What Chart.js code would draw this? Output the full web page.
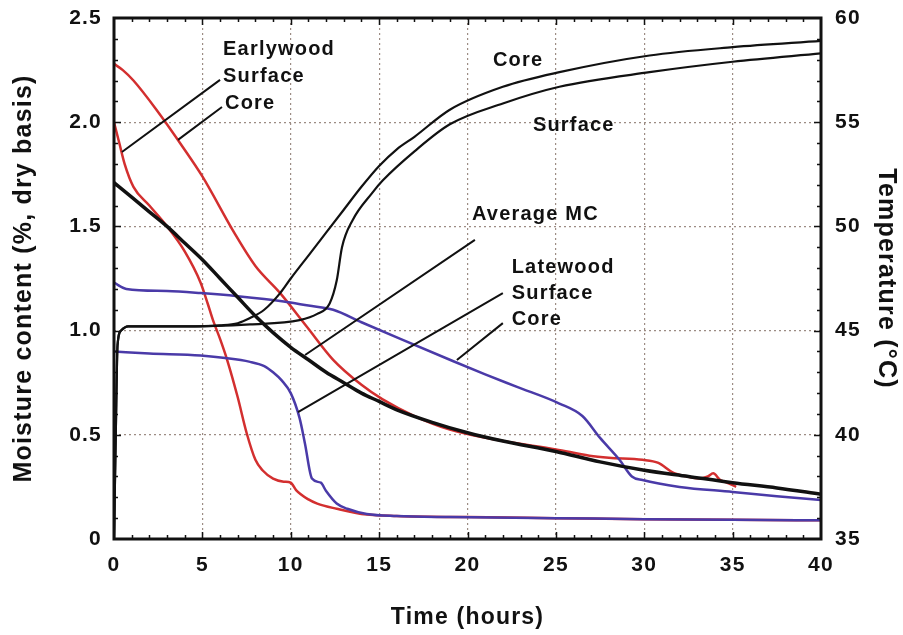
<!DOCTYPE html>
<html>
<head>
<meta charset="utf-8">
<script src="https://cdn.jsdelivr.net/npm/chart.js@4/dist/chart.umd.min.js"></script>
<style>
  html, body { margin: 0; padding: 0; background: #fff; }
  #chart { display: block; }
</style>
</head>
<body>
<canvas id="chart" width="903" height="635"></canvas>
<script>
// time axis ticks and value axis ticks
const timeTicks = [0, 5, 10, 15, 20, 25, 30, 35, 40];
const mcTicks = [0, 0.5, 1.0, 1.5, 2.0, 2.5];
const tempTicks = [35, 40, 45, 50, 55, 60];

// earlywood surface MC
const ewSurfT = [0, 0.3, 0.6, 1.1, 2, 3, 4, 4.9, 5.3, 5.6, 6, 6.4, 7, 7.5, 8, 8.4, 9, 9.6, 10, 10.3, 11, 11.5, 12.6, 14, 16, 20, 25, 30, 35, 40];
const ewSurfMC = [2.0, 1.9, 1.8, 1.69, 1.6, 1.5, 1.38, 1.23, 1.13, 1.05, 0.96, 0.86, 0.68, 0.51, 0.38, 0.33, 0.29, 0.275, 0.27, 0.235, 0.19, 0.17, 0.145, 0.12, 0.11, 0.105, 0.1, 0.095, 0.092, 0.09];

// earlywood core MC
const ewCoreT = [0, 0.5, 1.1, 2.4, 3.9, 5, 6.8, 8, 9.4, 10.9, 12.4, 14, 15.2, 17, 19, 22, 25, 26.9, 28, 29.9, 30.8, 31.6, 32.4, 33.1, 33.6, 33.9, 34.3, 34.7, 35.2];
const ewCoreMC = [2.28, 2.25, 2.2, 2.06, 1.88, 1.74, 1.47, 1.31, 1.18, 1.02, 0.86, 0.74, 0.67, 0.59, 0.525, 0.47, 0.43, 0.40, 0.39, 0.38, 0.365, 0.32, 0.30, 0.29, 0.30, 0.315, 0.283, 0.27, 0.25];

// average MC
const avgT = [0, 1, 2, 3, 4, 5, 6, 7, 8, 9, 10, 11, 12, 13, 14, 15, 16, 18, 20, 22, 25, 27.5, 30, 32.5, 35, 37.5, 40];
const avgMC = [1.71, 1.64, 1.57, 1.5, 1.42, 1.34, 1.25, 1.16, 1.07, 0.99, 0.92, 0.86, 0.80, 0.75, 0.70, 0.66, 0.62, 0.56, 0.51, 0.47, 0.42, 0.37, 0.33, 0.30, 0.27, 0.245, 0.215];

// latewood core MC
const lwCoreT = [0, 0.7, 3, 4.9, 7, 9.6, 11, 12.4, 14, 16.2, 19, 21, 22.8, 25.2, 26.5, 27.5, 28.6, 29.3, 29.9, 32, 35, 37.5, 40];
const lwCoreMC = [1.23, 1.2, 1.19, 1.18, 1.165, 1.14, 1.12, 1.10, 1.04, 0.96, 0.86, 0.79, 0.73, 0.65, 0.59, 0.485, 0.38, 0.30, 0.283, 0.25, 0.226, 0.205, 0.187];

// latewood surface MC
const lwSurfT = [0, 2, 4.9, 7.7, 8.5, 9, 9.5, 10, 10.5, 10.8, 11.2, 11.7, 12, 12.6, 13.2, 14.3, 16, 19, 25, 30, 35, 40];
const lwSurfMC = [0.9, 0.89, 0.88, 0.85, 0.83, 0.8, 0.76, 0.70, 0.58, 0.46, 0.29, 0.27, 0.23, 0.17, 0.145, 0.12, 0.11, 0.105, 0.1, 0.095, 0.092, 0.09];

// core temperature (°C)
const tCoreT = [0, 0.1, 0.2, 0.4, 0.8, 2, 4, 6, 7, 7.7, 8.5, 9.4, 10, 11, 12, 13, 14, 15, 16, 17, 19, 22, 25.2, 30.3, 35, 40];
const tCoreC = [35, 40, 44.3, 45, 45.2, 45.2, 45.2, 45.25, 45.35, 45.6, 46.0, 46.8, 47.5, 48.6, 49.7, 50.8, 51.9, 52.9, 53.7, 54.3, 55.6, 56.7, 57.4, 58.2, 58.6, 58.9];

// surface temperature (°C)
const tSurfT = [0, 0.1, 0.2, 0.4, 0.8, 4, 7.7, 10.5, 11.5, 12.2, 12.6, 12.9, 13.5, 14.6, 15.2, 17, 19, 22, 25.2, 30.3, 35, 40];
const tSurfC = [35, 40, 44.3, 45, 45.2, 45.2, 45.3, 45.5, 45.8, 46.3, 47.4, 49.0, 50.3, 51.6, 52.2, 53.6, 54.9, 55.9, 56.7, 57.4, 57.9, 58.3];

// labels inside the plot, [text, hours, MC]
const notes = [
    ['Earlywood', 6.17, 2.347],
    ['Surface', 6.17, 2.217],
    ['Core', 6.28, 2.092],
    ['Core', 21.44, 2.298],
    ['Surface', 23.7, 1.982],
    ['Average MC', 20.25, 1.555],
    ['Latewood', 22.5, 1.305],
    ['Surface', 22.5, 1.176],
    ['Core', 22.5, 1.051]
];
// leader lines, [x1, y1, x2, y2] in hours / MC
const leaders = [
    [6.0, 2.203, 0.45, 1.857],
    [6.11, 2.073, 3.62, 1.915],
    [20.42, 1.435, 10.81, 0.883],
    [22.0, 1.18, 10.41, 0.609],
    [22.0, 1.036, 19.4, 0.859]
];

const RED = '#d32f2f';
const BLUE = '#4a3aa8';
const BLACK = '#111111';
const FONT = "'Liberation Sans', Arial, sans-serif";

function pts(xs, ys) {
    return xs.map((x, i) => ({ x: x, y: ys[i] }));
}

function line(data, color, width, axis) {
    return {
        data: data,
        borderColor: color,
        borderWidth: width,
        pointRadius: 0,
        fill: false,
        cubicInterpolationMode: 'monotone',
        yAxisID: axis
    };
}

// no extra room for edge labels, the layout is fixed
function noPad(s) {
    s.paddingTop = 0;
    s.paddingBottom = 0;
    s.paddingLeft = 0;
    s.paddingRight = 0;
}

// frame, minor ticks, labels and leader lines
const decor = {
    id: 'decor',
    beforeDraw(chart) {
        const ctx = chart.ctx;
        ctx.save();
        ctx.fillStyle = '#fff';
        ctx.fillRect(0, 0, chart.width, chart.height);
        ctx.restore();
        ctx.letterSpacing = '1.2px';
    },
    afterDatasetsDraw(chart) {
        const ctx = chart.ctx;
        const a = chart.chartArea;
        const sx = chart.scales.x, sy = chart.scales.y, s2 = chart.scales.y2;
        ctx.save();
        ctx.strokeStyle = BLACK;
        ctx.lineWidth = 1.5;
        ctx.beginPath();
        for (let t = 1; t < 40; t++) {
            const x = Math.round(sx.getPixelForValue(t)) + 0.5;
            const len = t % 5 === 0 ? 7 : 4;
            ctx.moveTo(x, a.bottom); ctx.lineTo(x, a.bottom - len);
            ctx.moveTo(x, a.top); ctx.lineTo(x, a.top + len);
        }
        for (let v = 1; v < 25; v++) {
            const y = Math.round(sy.getPixelForValue(v / 10)) + 0.5;
            const len = v % 5 === 0 ? 7 : 4;
            ctx.moveTo(a.left, y); ctx.lineTo(a.left + len, y);
        }
        for (let c = 36; c < 60; c++) {
            const y = Math.round(s2.getPixelForValue(c)) + 0.5;
            const len = c % 5 === 0 ? 7 : 4;
            ctx.moveTo(a.right, y); ctx.lineTo(a.right - len, y);
        }
        ctx.stroke();

        ctx.lineWidth = 3;
        ctx.strokeRect(a.left, a.top, a.right - a.left, a.bottom - a.top);

        ctx.lineWidth = 2;
        ctx.beginPath();
        leaders.forEach(l => {
            ctx.moveTo(sx.getPixelForValue(l[0]), sy.getPixelForValue(l[1]));
            ctx.lineTo(sx.getPixelForValue(l[2]), sy.getPixelForValue(l[3]));
        });
        ctx.stroke();

        ctx.fillStyle = BLACK;
        ctx.font = 'bold 20px ' + FONT;
        ctx.textAlign = 'left';
        ctx.textBaseline = 'middle';
        notes.forEach(n => {
            ctx.fillText(n[0], sx.getPixelForValue(n[1]), sy.getPixelForValue(n[2]));
        });
        ctx.restore();
    }
};

const gridColor = '#9c8c84';
const tickFont = { family: FONT, size: 21, weight: 'bold' };
const xTitleFont = { family: FONT, size: 23, weight: 'bold' };
const yTitleFont = { family: FONT, size: 25, weight: 'bold' };

new Chart(document.getElementById('chart'), {
    type: 'line',
    data: {
        datasets: [
            line(pts(tCoreT, tCoreC), BLACK, 2.2, 'y2'),
            line(pts(tSurfT, tSurfC), BLACK, 2.2, 'y2'),
            line(pts(avgT, avgMC), BLACK, 3.5, 'y'),
            line(pts(lwSurfT, lwSurfMC), BLUE, 2.5, 'y'),
            line(pts(lwCoreT, lwCoreMC), BLUE, 2.5, 'y'),
            line(pts(ewCoreT, ewCoreMC), RED, 2.5, 'y'),
            line(pts(ewSurfT, ewSurfMC), RED, 2.5, 'y')
        ]
    },
    options: {
        responsive: false,
        animation: false,
        devicePixelRatio: 1,
        layout: { padding: { top: 18, left: 0, right: 0, bottom: 0 } },
        plugins: { legend: { display: false }, tooltip: { enabled: false } },
        scales: {
            x: {
                type: 'linear',
                min: 0,
                max: 40,
                afterBuildTicks: s => { s.ticks = timeTicks.map(v => ({ value: v })); },
                ticks: { font: tickFont, color: BLACK, padding: 14, maxRotation: 0, callback: v => String(v) },
                grid: { color: gridColor, lineWidth: 1.2, drawTicks: false },
                border: { display: false, dash: [2, 3] },
                title: { display: true, text: 'Time (hours)', font: xTitleFont, color: BLACK, padding: { bottom: 4 } },
                afterFit: s => { s.height = 96; noPad(s); }
            },
            y: {
                position: 'left',
                min: 0,
                max: 2.5,
                afterBuildTicks: s => { s.ticks = mcTicks.map(v => ({ value: v })); },
                ticks: { font: tickFont, color: BLACK, padding: 12, callback: v => v === 0 ? '0' : v.toFixed(1) },
                grid: { color: gridColor, lineWidth: 1.2, drawTicks: false },
                border: { display: false, dash: [2, 3] },
                title: { display: true, text: 'Moisture content (%, dry basis)', font: yTitleFont, color: BLACK, padding: { top: 9 } },
                afterFit: s => { s.width = 114; noPad(s); }
            },
            y2: {
                position: 'right',
                min: 35,
                max: 60,
                afterBuildTicks: s => { s.ticks = tempTicks.map(v => ({ value: v })); },
                ticks: { font: tickFont, color: BLACK, padding: 14, callback: v => String(v) },
                grid: { drawOnChartArea: false, drawTicks: false },
                border: { display: false },
                title: { display: true, text: 'Temperature (°C)', font: yTitleFont, color: BLACK, padding: { top: 2 } },
                afterFit: s => { s.width = 82; noPad(s); }
            }
        }
    },
    plugins: [decor]
});
</script>
</body>
</html>
